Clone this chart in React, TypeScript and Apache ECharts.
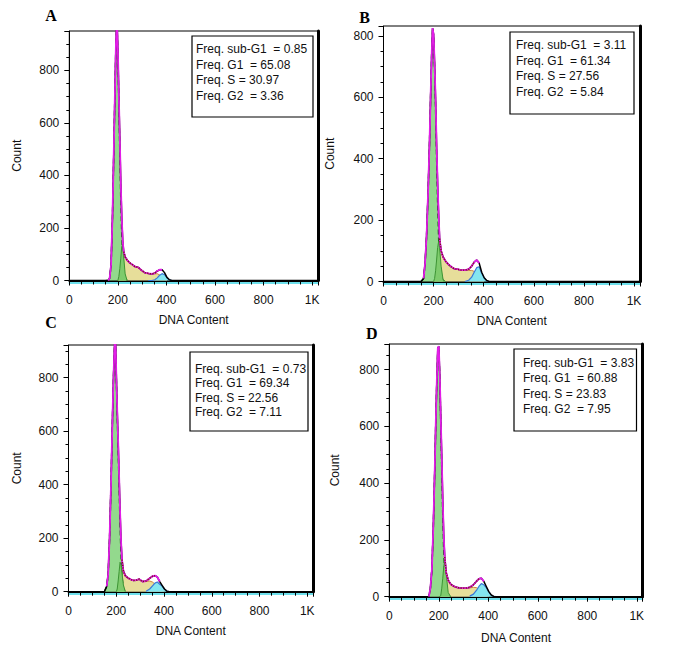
import React, { useEffect, useRef } from "react";
import * as echarts from "echarts";

// ---- data ----
const dnaBins = [150, 160, 166, 172, 178, 184, 188, 192, 196, 200, 204, 208, 212, 216, 220, 224, 230, 238, 248, 260, 272, 284, 296, 310, 325, 340, 352, 362, 372, 382, 392, 402, 412, 422, 432];
const xMax = 1024;
const xTickStep = 200;

// measured histogram (envelope), one value per bin
const countA = [0, 0, 8, 60, 250, 530, 720, 900, 1000, 880, 700, 540, 370, 240, 150, 110, 90, 78, 68, 60, 52, 50, 40, 30, 27, 25, 28, 36, 41, 41, 30, 12, 3, 0, 0];
const countB = [0, 10, 60, 150, 290, 460, 600, 730, 825, 805, 710, 590, 440, 320, 220, 140, 100, 80, 66, 55, 47, 41, 40, 37, 37, 40, 50, 63, 70, 60, 30, 12, 3, 0, 0];
const countC = [0, 20, 65, 200, 400, 640, 790, 900, 980, 820, 680, 560, 430, 300, 190, 120, 78, 60, 52, 46, 42, 43, 47, 38, 40, 50, 58, 60, 55, 38, 24, 10, 2, 0, 0];
const countD = [0, 0, 30, 95, 250, 460, 620, 760, 875, 882, 780, 630, 490, 340, 215, 140, 85, 58, 44, 37, 33, 31, 30, 30, 33, 42, 54, 63, 65, 54, 36, 18, 6, 1, 0];

// G1 peak, from bin 0
const g1A = [0, 0, 8, 60, 250, 530, 720, 900, 1000, 860, 680, 490, 310, 175, 85, 35, 8, 0];
const g1B = [0, 10, 60, 150, 290, 460, 600, 730, 825, 800, 695, 560, 400, 260, 145, 65, 18, 3, 0];
const g1C = [0, 20, 65, 200, 400, 640, 790, 900, 980, 810, 660, 530, 390, 250, 135, 55, 12, 0];
const g1D = [0, 0, 30, 95, 250, 460, 620, 760, 875, 880, 770, 610, 450, 290, 160, 75, 20, 3, 0];

// second green component, from bin 9 (200)
const shA = [0, 15, 45, 85, 130, 135, 90, 25, 0];
const shB = [0, 10, 35, 70, 110, 130, 110, 50, 5, 0];
const shC = [0, 10, 40, 75, 110, 100, 70, 25, 0];
const shD = [0, 0, 5, 30, 65, 105, 130, 80, 15, 0];

// S phase, from bin 10 (204)
const sA = [0, 10, 25, 40, 70, 95, 88, 78, 68, 60, 52, 50, 40, 30, 27, 25, 25, 26, 21, 14, 5, 0];
const sB = [0, 10, 25, 40, 70, 110, 98, 78, 66, 55, 47, 41, 40, 37, 36, 36, 36, 33, 26, 15, 5, 0];
const sC = [0, 10, 25, 40, 60, 80, 70, 60, 52, 46, 42, 43, 47, 38, 38, 40, 36, 28, 19, 10, 3, 0];
const sD = [0, 0, 10, 30, 55, 75, 75, 58, 44, 37, 33, 31, 30, 30, 31, 33, 32, 27, 20, 12, 4, 0];

// G2 peak, from bin 24 (325)
const g2A = [0, 0, 3, 10, 20, 26, 22, 11, 3, 0, 0];
const g2B = [0, 4, 14, 30, 45, 48, 27, 12, 3, 0, 0];
const g2C = [2, 10, 22, 32, 36, 28, 21, 10, 2, 0, 0];
const g2D = [2, 9, 22, 36, 46, 42, 32, 18, 6, 1, 0];

const freqNames = ["Freq. sub-G1  = ", "Freq. G1  = ", "Freq. S = ", "Freq. G2  = "];
const freqA = ["0.85", "65.08", "30.97", "3.36"];
const freqB = ["3.11", "61.34", "27.56", "5.84"];
const freqC = ["0.73", "69.34", "22.56", "7.11"];
const freqD = ["3.83", "60.88", "23.83", "7.95"];

const letters = ["A", "B", "C", "D"];
const yMaxes = [950, 832, 922, 890];
const xAxisName = "DNA Content";
const yAxisName = "Count";

const G1_START = 0;
const SH_START = 9;
const S_START = 10;
const G2_START = 24;
const DOT_FROM = 15;
const DOT_TO = 27;
const DATA_TO = 29;

// ---- layout ----
const gridBoxes = [
  { left: 69.3, top: 31, width: 248.7, height: 249.5 },
  { left: 383.5, top: 26, width: 256.5, height: 255.5 },
  { left: 68.5, top: 345, width: 244.5, height: 246.7 },
  { left: 389.3, top: 344, width: 253.4, height: 252.7 },
];
const yNameGaps = [46, 47.5, 45.5, 48];
const xNameGaps = [33, 33.5, 33, 35];
const letterPos = [[51, 15.5], [364.5, 17], [51, 322.5], [371.7, 333]];
const boxPos = [
  { x: 192, y: 36, w: 121, h: 81, tx: 196, ty: 41.3, lh: 15.5 },
  { x: 510, y: 32, w: 124, h: 82, tx: 516, ty: 37.2, lh: 15.7 },
  { x: 190, y: 352, w: 118, h: 79, tx: 195, ty: 361.8, lh: 14.4 },
  { x: 514, y: 349, w: 122.5, h: 82, tx: 523, ty: 355, lh: 15.4 },
];

const FONT = "'Liberation Sans', Arial, sans-serif";

const panels = [
  { count: countA, g1: g1A, sh: shA, s: sA, g2: g2A, freq: freqA },
  { count: countB, g1: g1B, sh: shB, s: sB, g2: g2B, freq: freqB },
  { count: countC, g1: g1C, sh: shC, s: sC, g2: g2C, freq: freqC },
  { count: countD, g1: g1D, sh: shD, s: sD, g2: g2D, freq: freqD },
];

const pts = (vals: number[], start: number) => vals.map((v, k) => [dnaBins[start + k], v]);
const range = (vals: number[], from: number, to: number) => {
  const out: number[][] = [];
  for (let k = from; k <= to; k++) out.push([dnaBins[k], vals[k]]);
  return out;
};

function buildOption() {
  const grid: any[] = [];
  const xAxis: any[] = [];
  const yAxis: any[] = [];
  const series: any[] = [];
  const graphic: any[] = [];

  panels.forEach((p, i) => {
    const g = gridBoxes[i];
    grid.push({
      left: g.left, top: g.top, width: g.width, height: g.height,
      show: true, borderColor: "#000", borderWidth: 1, backgroundColor: "#fff",
      containLabel: false, outerBoundsMode: "none",
    });
    xAxis.push({
      type: "value", gridIndex: i, min: 0, max: xMax, interval: xTickStep,
      axisLine: { show: true, onZero: false, lineStyle: { color: "#000", width: 2 } },
      axisTick: { show: true, length: 5, lineStyle: { color: "#000", width: 1 } },
      minorTick: { show: true, splitNumber: 4, length: 4, lineStyle: { color: "#000", width: 1 } },
      splitLine: { show: false }, minorSplitLine: { show: false },
      axisLabel: {
        margin: 13, color: "#111", fontSize: 12, fontFamily: FONT,
        formatter: (v: number) => (v === 1000 ? "1K" : v % 200 === 0 && v < 1000 ? String(v) : ""),
      },
      name: xAxisName, nameLocation: "middle", nameGap: xNameGaps[i],
      nameTextStyle: { color: "#111", fontSize: 12, fontFamily: FONT },
    });
    xAxis.push({
      type: "value", gridIndex: i, min: 0, max: xMax, position: "bottom", offset: 2,
      axisLine: { show: true, onZero: false, lineStyle: { color: "#3fd6e6", width: 1.5 } },
      axisTick: { show: false }, axisLabel: { show: false }, splitLine: { show: false },
    });
    yAxis.push({
      type: "value", gridIndex: i, min: 0, max: yMaxes[i], interval: 200,
      axisLine: { show: true, onZero: false, lineStyle: { color: "#000", width: 1 } },
      axisTick: { show: true, length: 5, lineStyle: { color: "#000", width: 1 } },
      minorTick: { show: true, splitNumber: 4, length: 3, lineStyle: { color: "#000", width: 1 } },
      splitLine: { show: false }, minorSplitLine: { show: false },
      axisLabel: {
        margin: 10, color: "#111", fontSize: 12, fontFamily: FONT,
        formatter: (v: number) => (v % 200 === 0 && v <= 800 ? String(v) : ""),
      },
      name: yAxisName, nameLocation: "middle", nameGap: yNameGaps[i], nameRotate: 90,
      nameTextStyle: { color: "#111", fontSize: 12, fontFamily: FONT },
    });
    yAxis.push({
      type: "value", gridIndex: i, min: 0, max: yMaxes[i], position: "right",
      axisLine: { show: true, onZero: false, lineStyle: { color: "#000", width: 3 } },
      axisTick: { show: false }, axisLabel: { show: false }, splitLine: { show: false },
    });

    const base = {
      type: "line", xAxisIndex: 2 * i, yAxisIndex: 2 * i, symbol: "none", showSymbol: false,
      silent: true, animation: false, clip: true,
    };
    series.push({ ...base, name: "S", data: pts(p.s, S_START), areaStyle: { color: "#e7de9a", opacity: 1 }, lineStyle: { color: "#d2843e", width: 1 }, z: 2 });
    series.push({ ...base, name: "G1", data: pts(p.g1, G1_START), areaStyle: { color: "#93d98d", opacity: 1 }, lineStyle: { color: "#1e5a1e", width: 1.5, type: [5, 3] }, z: 3 });
    series.push({ ...base, name: "G1b", data: pts(p.sh, SH_START), areaStyle: { color: "#7ecb6c", opacity: 1 }, lineStyle: { color: "#3d9434", width: 1 }, z: 4 });
    series.push({ ...base, name: "G2", data: pts(p.g2, G2_START), areaStyle: { color: "#84e6f0", opacity: 1 }, lineStyle: { color: "#3a78d8", width: 1.2 }, z: 4 });
    series.push({ ...base, name: "fit", data: [[0, 0], ...range(p.count, 0, dnaBins.length - 1), [xMax, 0]], lineStyle: { color: "#000", width: 1.5 }, z: 5 });
    series.push({ ...base, name: "data", data: range(p.count, 1, DATA_TO), lineStyle: { color: "#e31de8", width: 1.8 }, z: 6 });
    series.push({ ...base, name: "dots", data: range(p.count, DOT_FROM, DOT_TO), lineStyle: { color: "#7a1a10", width: 1.3, type: "dotted" }, z: 7 });

    const lp = letterPos[i];
    graphic.push({
      type: "text", x: lp[0], y: lp[1], z: 100,
      style: {
        text: letters[i], font: "bold 16px 'Liberation Serif', 'Times New Roman', serif", fill: "#000",
        align: "center", verticalAlign: "middle", textAlign: "center", textVerticalAlign: "middle",
      },
    });
    const b = boxPos[i];
    graphic.push({
      type: "rect", z: 100, shape: { x: b.x, y: b.y, width: b.w, height: b.h },
      style: { fill: "#fff", stroke: "#000", lineWidth: 1.2 },
    });
    graphic.push({
      type: "text", x: b.tx, y: b.ty, z: 101,
      style: {
        text: freqNames.map((n, k) => n + p.freq[k]).join("\n"),
        font: `12px ${FONT}`, lineHeight: b.lh, fill: "#111",
        align: "left", verticalAlign: "top", textAlign: "left", textVerticalAlign: "top",
      },
    });
  });

  return { animation: false, backgroundColor: "#fff", grid, xAxis, yAxis, series, graphic };
}

export default function App() {
  const ref = useRef<HTMLDivElement>(null);
  useEffect(() => {
    if (!ref.current) return;
    const chart = echarts.init(ref.current, null, { renderer: "svg" });
    chart.setOption(buildOption() as any);
    return () => chart.dispose();
  }, []);
  return (
    <div
      ref={ref}
      style={{ position: "fixed", left: 0, top: 0, width: 681, height: 666, background: "#fff" }}
    />
  );
}
